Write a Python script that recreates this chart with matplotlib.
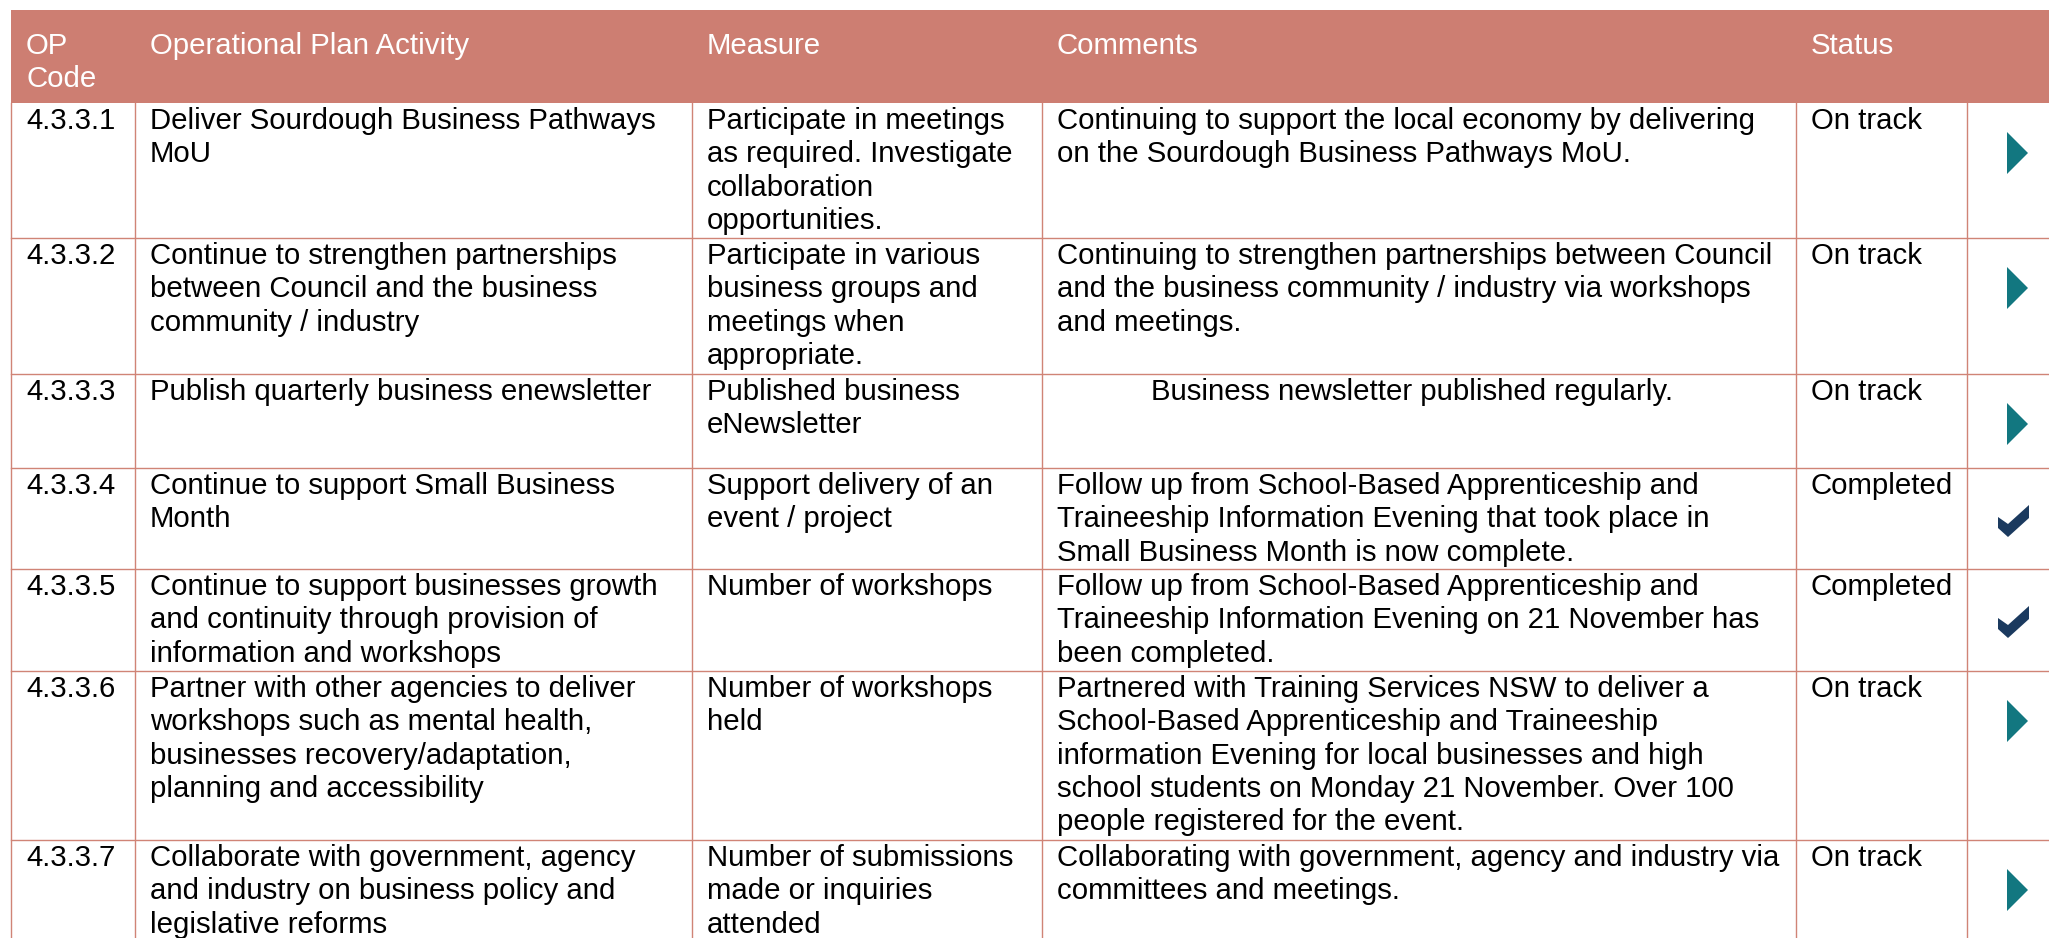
import matplotlib
matplotlib.use("Agg")
import matplotlib.pyplot as plt
from matplotlib.patches import Rectangle, Polygon

# ─────────────────────────────────────────────
# DATOS
# ─────────────────────────────────────────────
headers = ["OP\nCode", "Operational Plan Activity", "Measure", "Comments", "Status", ""]

codes = ["4.3.3.1", "4.3.3.2", "4.3.3.3", "4.3.3.4", "4.3.3.5", "4.3.3.6", "4.3.3.7"]

activities = [
    "Deliver Sourdough Business Pathways\nMoU",
    "Continue to strengthen partnerships\nbetween Council and the business\ncommunity / industry",
    "Publish quarterly business enewsletter",
    "Continue to support Small Business\nMonth",
    "Continue to support businesses growth\nand continuity through provision of\ninformation and workshops",
    "Partner with other agencies to deliver\nworkshops such as mental health,\nbusinesses recovery/adaptation,\nplanning and accessibility",
    "Collaborate with government, agency\nand industry on business policy and\nlegislative reforms",
]

measures = [
    "Participate in meetings\nas required. Investigate\ncollaboration\nopportunities.",
    "Participate in various\nbusiness groups and\nmeetings when\nappropriate.",
    "Published business\neNewsletter",
    "Support delivery of an\nevent / project",
    "Number of workshops",
    "Number of workshops\nheld",
    "Number of submissions\nmade or inquiries\nattended",
]

comments = [
    "Continuing to support the local economy by delivering\non the Sourdough Business Pathways MoU.",
    "Continuing to strengthen partnerships between Council\nand the business community / industry via workshops\nand meetings.",
    "Business newsletter published regularly.",
    "Follow up from School-Based Apprenticeship and\nTraineeship Information Evening that took place in\nSmall Business Month is now complete.",
    "Follow up from School-Based Apprenticeship and\nTraineeship Information Evening on 21 November has\nbeen completed.",
    "Partnered with Training Services NSW to deliver a\nSchool-Based Apprenticeship and Traineeship\ninformation Evening for local businesses and high\nschool students on Monday 21 November. Over 100\npeople registered for the event.",
    "Collaborating with government, agency and industry via\ncommittees and meetings.",
]
comment_centered = [False, False, True, False, False, False, False]

statuses = ["On track", "On track", "On track", "Completed", "Completed", "On track", "On track"]

# ─────────────────────────────────────────────
# LAYOUT (píxeles)
# ─────────────────────────────────────────────
W, H = 2049, 938
col_x = [11, 135, 692, 1042, 1796, 1967, W]
row_y = [103, 238, 374, 468, 569, 671, 840, 1000]
head_top = 10
pad_x = 15
base_off = 26
line_h = 33.3

HEAD_C = "#CD7E72"
GRID_C = "#D08476"
TEAL = "#127780"
NAVY = "#1B3A5F"
FONT = "Liberation Sans"
FS = 21.2

fig = plt.figure(figsize=(W / 100, H / 100), dpi=100)
ax = fig.add_axes([0, 0, 1, 1])
ax.set_xlim(0, W)
ax.set_ylim(H, 0)
ax.axis("off")


def put_lines(x, y0, text, color="black", ha="left"):
    for i, ln in enumerate(text.split("\n")):
        ax.text(x, y0 + i * line_h, ln, ha=ha, va="baseline",
                fontsize=FS, family=FONT, color=color)


# header
ax.add_patch(Rectangle((col_x[0], head_top), W - col_x[0], row_y[0] - head_top,
                       facecolor=HEAD_C, edgecolor="none"))
for j, h in enumerate(headers):
    put_lines(col_x[j] + pad_x, head_top + 44, h, color="white")

# grid
for y in row_y[1:-1]:
    ax.plot([col_x[0], W], [y, y], color=GRID_C, lw=1.0)
for x in col_x[:-1]:
    ax.plot([x, x], [row_y[0], H], color=GRID_C, lw=1.0)

# cells
for i in range(len(codes)):
    top = row_y[i]
    yb = top + base_off
    put_lines(col_x[0] + pad_x, yb, codes[i])
    put_lines(col_x[1] + pad_x, yb, activities[i])
    put_lines(col_x[2] + pad_x, yb, measures[i])
    if comment_centered[i]:
        put_lines((col_x[3] + col_x[4]) / 2 - 7, yb, comments[i], ha="center")
    else:
        put_lines(col_x[3] + pad_x, yb, comments[i])
    put_lines(col_x[4] + pad_x, yb, statuses[i])

    # icono de estado
    if statuses[i] == "Completed":
        x0, y0 = 1998, top + 37
        pts = [(0, 12), (10, 19), (31, 0), (31, 13), (10, 32), (0, 23)]
        ax.add_patch(Polygon([(x0 + a, y0 + b) for a, b in pts], closed=True,
                             facecolor=NAVY, edgecolor="none"))
    else:
        cy = top + 50
        ax.add_patch(Polygon([(2007, cy - 21), (2028, cy), (2007, cy + 21)],
                             closed=True, facecolor=TEAL, edgecolor="none"))

fig.savefig("out.png", dpi=100)
